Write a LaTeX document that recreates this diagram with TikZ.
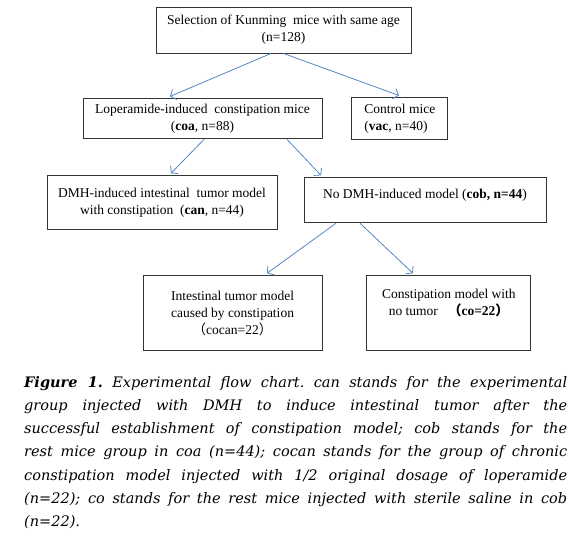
\documentclass[tikz,border=0pt]{standalone}
\usepackage{fontspec}
\setmainfont{Liberation Serif}
\newfontfamily\cjk{Noto Sans CJK SC}
\newfontfamily\capfont{DejaVu Serif}
\usepackage{tikz}
\usetikzlibrary{positioning, arrows.meta}
\definecolor{arrowblue}{RGB}{84,134,196}
\frenchspacing

\tikzset{
	group/.style={draw=black!80, line width=0.9pt, inner sep=2pt, align=center,
		font=\fontsize{13.5}{17}\selectfont},
	flow/.style={draw=arrowblue, line width=0.8pt, -{Straight Barb[length=4.5pt,width=11pt]}}
}

\begin{document}
\begin{tikzpicture}
	\useasboundingbox (0pt,0pt) rectangle (581pt,-544pt);
	
	\node[group, minimum width=255pt, minimum height=46pt] (sel) at (283.5pt,-30pt)
		{Selection of Kunming\ \ mice with same age\\(n=128)};
	\node[group, minimum width=239pt, minimum height=40pt, below=45pt of sel, xshift=-81pt] (coa)
		{Loperamide-induced\ \ constipation mice\\(\textbf{coa}, n=88)};
	\node[group, align=left, minimum width=96pt, minimum height=42pt, right=29pt of coa] (vac)
		{Control mice\\(\textbf{vac}, n=40)};
	
	\node[group, minimum width=230pt, minimum height=54pt, below=36pt of coa, xshift=-40.5pt] (can)
		{DMH-induced intestinal\ \ tumor model\\with constipation\ \ (\textbf{can}, n=44)};
	\node[group, minimum width=242pt, minimum height=45pt, text depth=13pt, below=38pt of coa, xshift=222.5pt] (cob)
		{No DMH-induced model (\textbf{cob, n=44})};
	
	\node[group, minimum width=179pt, minimum height=75pt, below=52pt of cob, xshift=-192.5pt] (cocan)
		{Intestinal tumor model\\caused by constipation\\{\cjk （}cocan=22{\cjk ）}};
	\node[group, minimum width=164pt, minimum height=75pt, text depth=22pt, right=44pt of cocan] (co)
		{Constipation model with\\no tumor\ \ \ \textbf{{\cjk （}co=22{\cjk ）}}};
	
	\draw[flow] ([xshift=-12.5pt]sel.south) -- ([xshift=-32.5pt,yshift=2pt]coa.north);
	\draw[flow] (sel.south) -- ([xshift=-1pt,yshift=2pt]vac.north);
	\draw[flow] ([xshift=1.5pt]coa.south) -- ([xshift=9pt,yshift=2pt]can.north);
	\draw[flow] ([xshift=84.5pt]coa.south) -- ([xshift=-104pt,yshift=2pt]cob.north);
	\draw[flow] ([xshift=-89pt]cob.south) -- ([xshift=34.5pt,yshift=2pt]cocan.north);
	\draw[flow] ([xshift=-65pt]cob.south) -- ([xshift=-36pt,yshift=2pt]co.north);
	
	\node[anchor=north west, inner sep=0pt, text width=543pt, align=justify,
		font=\capfont\itshape\fontsize{14.5}{23.2}\selectfont] (caption) at (24pt,-376pt)
		{\textbf{Figure 1.} Experimental flow chart. can stands for the experimental\linebreak
		group injected with DMH to induce intestinal tumor after the\linebreak
		successful establishment of constipation model; cob stands for the\linebreak
		rest mice group in coa (n=44); cocan stands for the group of chronic\linebreak
		constipation model injected with 1/2 original dosage of loperamide\linebreak
		(n=22); co stands for the rest mice injected with sterile saline in cob\linebreak
		(n=22).};
\end{tikzpicture}
\end{document}
